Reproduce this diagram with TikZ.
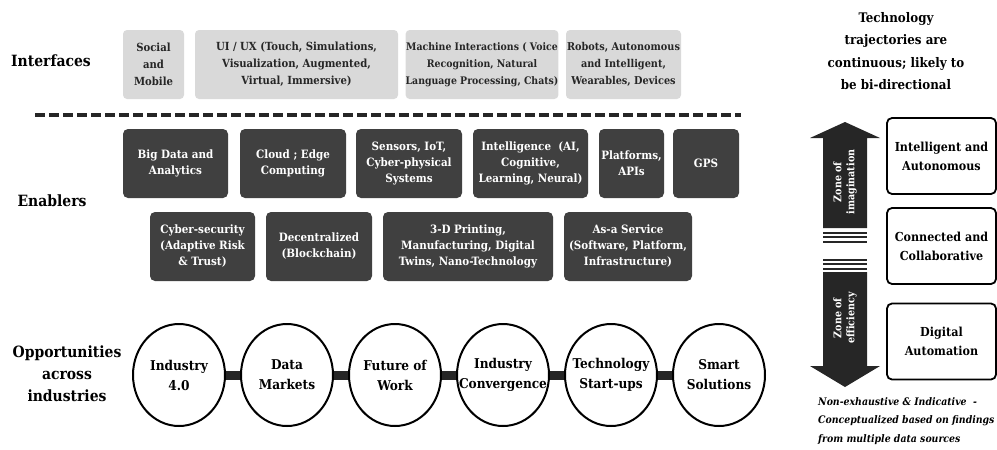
\documentclass[tikz,border=0pt]{standalone}
\usepackage{fontspec}
\setmainfont{DejaVu Serif Condensed}
\usepackage{xcolor}
\usetikzlibrary{shapes.geometric}
\definecolor{lightbox}{RGB}{217,217,217}
\definecolor{darkbox}{RGB}{64,64,64}
\definecolor{arrowgray}{RGB}{38,38,38}

\begin{document}
\begin{tikzpicture}[x=1pt,y=-1pt,
    rowlabel/.style={font=\bfseries\fontsize{15.5}{22}\selectfont,align=center},
    iface/.style={fill=lightbox,rounded corners=4pt,align=center,minimum height=69pt,
        inner sep=0pt,font=\bfseries\fontsize{11.2}{17}\selectfont,text=black!85},
    enabler/.style={fill=darkbox,rounded corners=5pt,align=center,minimum height=69pt,
        inner sep=0pt,text=white,font=\bfseries\fontsize{11.5}{16}\selectfont},
    opp/.style={ellipse,draw,line width=2pt,minimum width=92pt,minimum height=102pt,
        inner xsep=-16pt,inner ysep=0pt,align=center,font=\bfseries\fontsize{13.5}{20}\selectfont},
    link/.style={line width=9pt,arrowgray},
    level/.style={draw,line width=1.8pt,rounded corners=5pt,minimum width=109pt,
        minimum height=76pt,align=center,font=\bfseries\fontsize{12.4}{19}\selectfont}]
            \useasboundingbox (0,0) rectangle (997,450);

            % row labels
            \node[rowlabel] (lblint) at (51,61) {Interfaces};
            \node[rowlabel] (lblena) at (52,201) {Enablers};
            \node[rowlabel] (lblopp) at (67,374) {Opportunities\\across\\industries};

            % interfaces
            \node[iface,minimum width=61pt] (social) at (153.5,64.5) {Social\\and\\Mobile};
            \node[iface,minimum width=203pt] (uiux) at (296.5,64.5) {UI / UX (Touch, Simulations,\\Visualization, Augmented,\\Virtual, Immersive)};
            \node[iface,minimum width=150pt,font=\bfseries\fontsize{10.4}{17}\selectfont] (machine) at (482,64.5) {Machine Interactions ( Voice\\Recognition, Natural\\Language Processing, Chats)};
            \node[iface,minimum width=115pt,font=\bfseries\fontsize{10.8}{17}\selectfont] (robots) at (623.5,64.5) {Robots, Autonomous\\and Intelligent,\\Wearables, Devices};

            \draw[line width=4pt,dash pattern=on 10pt off 4pt,black!85] (35,115) -- (741,115);

            % enablers
            \node[enabler,minimum width=105pt] (bigdata) at (175.5,163.5) {Big Data and\\Analytics};
            \node[enabler,minimum width=106pt] (cloud) at (293,163.5) {Cloud ; Edge\\Computing};
            \node[enabler,minimum width=106pt] (sensors) at (409,163.5) {Sensors, IoT,\\Cyber-physical\\Systems};
            \node[enabler,minimum width=115pt] (intel) at (530.5,163.5) {Intelligence\ \ (AI,\\Cognitive,\\Learning, Neural)};
            \node[enabler,minimum width=65pt] (platforms) at (631.5,163.5) {Platforms,\\APIs};
            \node[enabler,minimum width=66pt] (gps) at (706,163.5) {GPS};
            \node[enabler,minimum width=105pt] (cyber) at (202.5,246.5) {Cyber-security\\(Adaptive Risk\\\& Trust)};
            \node[enabler,minimum width=106pt] (decentral) at (319,246.5) {Decentralized\\(Blockchain)};
            \node[enabler,minimum width=170pt] (printing) at (468,246.5) {3-D Printing,\\Manufacturing, Digital\\Twins, Nano-Technology};
            \node[enabler,minimum width=128pt] (service) at (628,246.5) {As-a Service\\(Software, Platform,\\Infrastructure)};

            % opportunities
            \node[opp] (industry) at (179,375) {Industry\\4.0};
            \node[opp] (markets) at (287,375) {Data\\Markets};
            \node[opp] (work) at (395,375) {Future of\\Work};
            \node[opp] (converge) at (503,375) {Industry\\Convergence};
            \node[opp] (startups) at (611,375) {Technology\\Start-ups};
            \node[opp] (smart) at (719,375) {Smart\\Solutions};
            \draw[link] (industry) -- (markets);
            \draw[link] (markets) -- (work);
            \draw[link] (work) -- (converge);
            \draw[link] (converge) -- (startups);
            \draw[link] (startups) -- (smart);

            % trajectories
            \node[rowlabel,font=\bfseries\fontsize{13.2}{22.3}\selectfont] (title) at (896,51) {Technology\\trajectories are\\continuous; likely to\\be bi-directional};

            \fill[arrowgray] (845,122) -- (880,138) -- (867,138) -- (867,228) -- (823,228) -- (823,138) -- (810,138) -- cycle;
            \fill[arrowgray] (823,272) -- (867,272) -- (867,366) -- (880,366) -- (845,387) -- (810,366) -- (823,366) -- cycle;
            \foreach \y in {232.5,237,241.5,259.5,264,268.5}
                \draw[arrowgray,line width=2pt] (823,\y) -- (867,\y);
            \node[rotate=90,text=white,align=center,font=\bfseries\fontsize{10.6}{13}\selectfont] (imagine) at (845,182) {Zone of\\imagination};
            \node[rotate=90,text=white,align=center,font=\bfseries\fontsize{10.6}{13}\selectfont] (efficient) at (845,318) {Zone of\\efficiency};

            \node[level] (auto) at (941.5,156) {Intelligent and\\Autonomous};
            \node[level] (collab) at (941.5,246) {Connected and\\Collaborative};
            \node[level] (digital) at (941.5,341.5) {Digital\\Automation};

            \node[anchor=north west,align=left,inner sep=0pt,font=\bfseries\itshape\fontsize{10.4}{18.5}\selectfont] (note) at (818,397) {Non-exhaustive \& Indicative\ \ -\\Conceptualized based on findings\\from multiple data sources};
        \end{tikzpicture}
\end{document}
